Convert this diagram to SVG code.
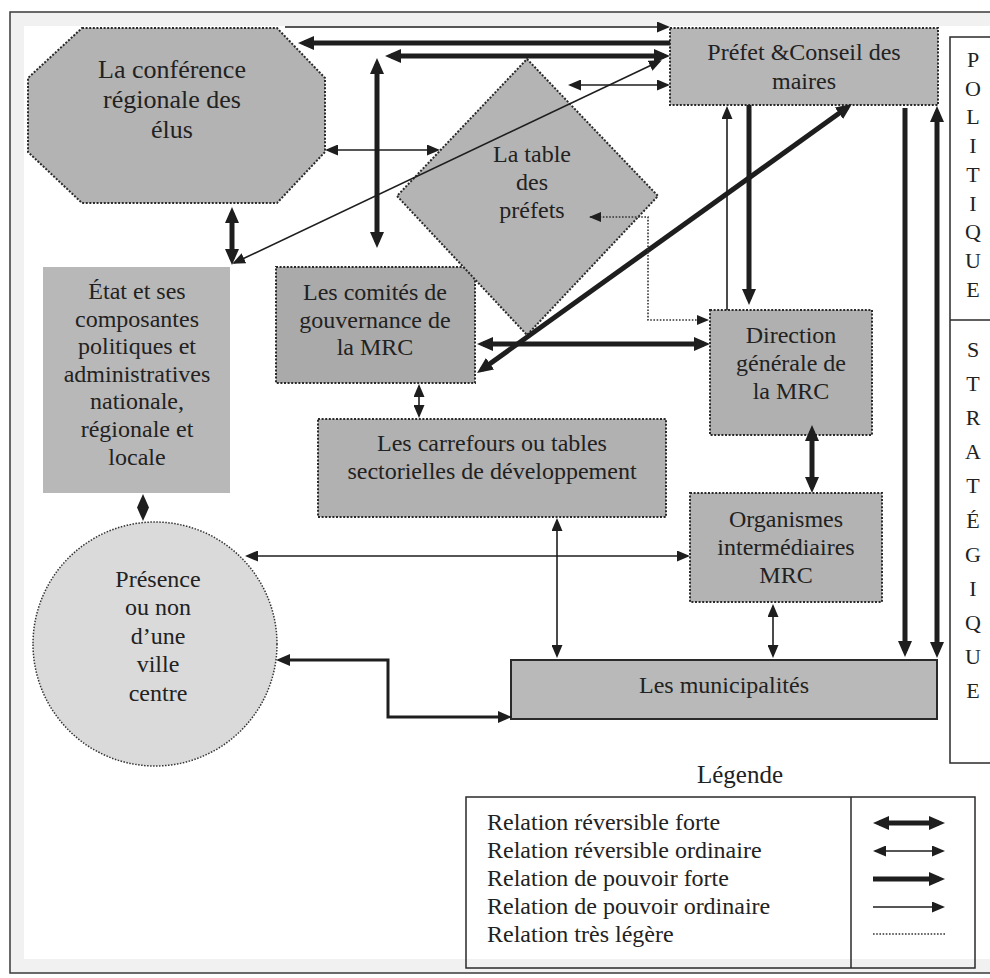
<svg xmlns="http://www.w3.org/2000/svg" width="990" height="978" viewBox="0 0 990 978">
  <defs>
    <style>
      .lbl{font-family:"Liberation Serif","Times New Roman",serif;font-size:24px;fill:#222;text-anchor:middle}
      .col{font-family:"Liberation Serif","Times New Roman",serif;font-size:22px;fill:#222;text-anchor:middle}
      .leg{font-family:"Liberation Serif","Times New Roman",serif;font-size:24px;fill:#222}
      .box{stroke:#2a2a2a;stroke-width:2;stroke-dasharray:2 1.6}
      .thick{fill:none;stroke:#1e1e1e;stroke-width:5}
      .thin{fill:none;stroke:#1e1e1e;stroke-width:1.6}
      .mid{fill:none;stroke:#1e1e1e;stroke-width:3}
      .light{fill:none;stroke:#333;stroke-width:1.6;stroke-dasharray:1.6 1.6}
      .frame{fill:none;stroke:#2a2a2a;stroke-width:1.5}
    </style>
    <marker id="hk" viewBox="0 0 16 14" refX="10" refY="7" markerWidth="16" markerHeight="14" markerUnits="userSpaceOnUse" orient="auto-start-reverse">
      <path d="M0,0 L16,7 L0,14 z" fill="#1e1e1e"/>
    </marker>
    <marker id="hn" viewBox="0 0 13 11" refX="11" refY="5.5" markerWidth="13" markerHeight="11" markerUnits="userSpaceOnUse" orient="auto-start-reverse">
      <path d="M0,0 L13,5.5 L0,11 z" fill="#1e1e1e"/>
    </marker>
    <marker id="hm" viewBox="0 0 14 12" refX="8" refY="6" markerWidth="14" markerHeight="12" markerUnits="userSpaceOnUse" orient="auto-start-reverse">
      <path d="M0,0 L14,6 L0,12 z" fill="#1e1e1e"/>
    </marker>
    <marker id="hd" viewBox="0 0 12 10" refX="11" refY="5" markerWidth="12" markerHeight="10" markerUnits="userSpaceOnUse" orient="auto-start-reverse">
      <path d="M0,0 L12,5 L0,10 z M0,1 h2 v8 h-2 z" fill="#1e1e1e"/>
    </marker>
  </defs>

  <!-- page frame -->
  <rect x="10" y="12" width="985" height="961" fill="#f1f1f1" stroke="#3a3a3a" stroke-width="1.5"/>
  <rect x="24" y="26" width="971" height="933" fill="#ffffff"/>

  <!-- level column -->
  <g id="niveaux">
    <rect x="950" y="37" width="50" height="726" fill="#ffffff" class="frame"/>
    <line x1="950" y1="320" x2="990" y2="320" class="frame"/>
    <text class="col" x="973" y="67">P</text>
    <text class="col" x="973" y="96">O</text>
    <text class="col" x="973" y="124">L</text>
    <text class="col" x="973" y="153">I</text>
    <text class="col" x="973" y="182">T</text>
    <text class="col" x="973" y="211">I</text>
    <text class="col" x="973" y="239">Q</text>
    <text class="col" x="973" y="268">U</text>
    <text class="col" x="973" y="297">E</text>
    <text class="col" x="973" y="357">S</text>
    <text class="col" x="973" y="391">T</text>
    <text class="col" x="973" y="425">R</text>
    <text class="col" x="973" y="459">A</text>
    <text class="col" x="973" y="493">T</text>
    <text class="col" x="973" y="528">É</text>
    <text class="col" x="973" y="562">G</text>
    <text class="col" x="973" y="596">I</text>
    <text class="col" x="973" y="630">Q</text>
    <text class="col" x="973" y="664">U</text>
    <text class="col" x="973" y="698">E</text>
  </g>

  <g id="conference-regionale">
    <polygon points="82,28 277,28 325,78 325,152 277,203 82,203 28,152 28,78" fill="#b3b3b3" class="box"/>
    <text class="lbl" style="font-size:26px" x="172" y="78">La conférence</text>
    <text class="lbl" style="font-size:26px" x="172" y="108">régionale des</text>
    <text class="lbl" style="font-size:26px" x="172" y="138">élus</text>
  </g>

  <g id="prefet-conseil">
    <rect x="670" y="28" width="268" height="77" fill="#b6b6b6" class="box"/>
    <text class="lbl" x="804" y="60">Préfet &amp;Conseil des</text>
    <text class="lbl" x="804" y="89">maires</text>
  </g>

  <g id="etat">
    <rect x="43" y="267" width="187" height="226" fill="#b8b8b8"/>
    <text class="lbl" x="137" y="299">État et ses</text>
    <text class="lbl" x="137" y="327">composantes</text>
    <text class="lbl" x="137" y="354">politiques et</text>
    <text class="lbl" x="137" y="382">administratives</text>
    <text class="lbl" x="137" y="409">nationale,</text>
    <text class="lbl" x="137" y="437">régionale et</text>
    <text class="lbl" x="137" y="465">locale</text>
  </g>

  <g id="comites">
    <rect x="276" y="267" width="199" height="116" fill="#aaaaaa" class="box"/>
    <text class="lbl" x="375" y="300">Les comités de</text>
    <text class="lbl" x="375" y="328">gouvernance de</text>
    <text class="lbl" x="375" y="355">la MRC</text>
  </g>

  <g id="table-prefets">
    <polygon points="527,59 658,196 527,335 397,196" fill="#b4b4b4" class="box"/>
    <text class="lbl" x="532" y="162">La table</text>
    <text class="lbl" x="532" y="190">des</text>
    <text class="lbl" x="532" y="218">préfets</text>
  </g>

  <g id="carrefours">
    <rect x="318" y="419" width="348" height="98" fill="#b1b1b1" class="box"/>
    <text class="lbl" x="492" y="451">Les carrefours ou tables</text>
    <text class="lbl" x="492" y="479">sectorielles de développement</text>
  </g>

  <g id="direction">
    <rect x="710" y="310" width="162" height="125" fill="#b0b0b0" class="box"/>
    <text class="lbl" x="791" y="343">Direction</text>
    <text class="lbl" x="791" y="371">générale de</text>
    <text class="lbl" x="791" y="399">la MRC</text>
  </g>

  <g id="organismes">
    <rect x="690" y="493" width="192" height="109" fill="#b3b3b3" class="box"/>
    <text class="lbl" x="786" y="527">Organismes</text>
    <text class="lbl" x="786" y="555">intermédiaires</text>
    <text class="lbl" x="786" y="583">MRC</text>
  </g>

  <g id="municipalites">
    <rect x="511" y="660" width="426" height="59" fill="#b9b9b9" stroke="#2a2a2a" stroke-width="2"/>
    <text class="lbl" x="724" y="693">Les municipalités</text>
  </g>

  <g id="ville-centre">
    <circle cx="155" cy="644" r="122" fill="#dadada" stroke="#333" stroke-width="1.5" stroke-dasharray="1.5 1.5"/>
    <text class="lbl" x="158" y="587">Présence</text>
    <text class="lbl" x="158" y="615">ou non</text>
    <text class="lbl" x="158" y="644">d’une</text>
    <text class="lbl" x="158" y="672">ville</text>
    <text class="lbl" x="158" y="701">centre</text>
  </g>

  <!-- relations -->
  <g id="connecteurs">
    <path class="thin" d="M285,27 H668" marker-end="url(#hn)"/>
    <path class="thick" d="M670,43 H304" marker-end="url(#hk)"/>
    <path class="thick" d="M391,56 H664" marker-start="url(#hk)" marker-end="url(#hk)"/>
    <path class="thick" d="M377,64 V242" marker-start="url(#hk)" marker-end="url(#hk)"/>
    <path class="thin" d="M570,85 H668" marker-start="url(#hn)" marker-end="url(#hn)"/>
    <path class="thin" d="M234,263 L660,61" marker-start="url(#hn)" marker-end="url(#hn)"/>
    <path class="thin" d="M327,150 H438" marker-start="url(#hn)" marker-end="url(#hn)"/>
    <path class="thick" d="M232,213 V259" marker-start="url(#hk)" marker-end="url(#hk)"/>
    <path class="thick" d="M483,344 H704" marker-start="url(#hk)" marker-end="url(#hk)"/>
    <path class="thick" d="M481.9,369.5 L847.1,107.5" marker-start="url(#hk)" marker-end="url(#hk)"/>
    <path class="light" d="M590,217 H648 V320 H708" marker-start="url(#hd)" marker-end="url(#hd)"/>
    <path class="thin" d="M727,310 V108" marker-end="url(#hn)"/>
    <path class="thick" d="M749,105 V299" marker-end="url(#hk)"/>
    <path class="thick" d="M905,108 V651" marker-end="url(#hk)"/>
    <path class="thick" d="M937,112 V652" marker-start="url(#hk)" marker-end="url(#hk)"/>
    <path class="thick" d="M812,431 V487" marker-start="url(#hk)" marker-end="url(#hk)"/>
    <path class="thin" d="M419,386 V416" marker-start="url(#hn)" marker-end="url(#hn)"/>
    <path class="thin" d="M557,520 V656" marker-start="url(#hn)" marker-end="url(#hn)"/>
    <path class="thin" d="M247,556 H688" marker-start="url(#hn)" marker-end="url(#hn)"/>
    <path class="thin" d="M773,606 V656" marker-start="url(#hn)" marker-end="url(#hn)"/>
    <path class="mid" d="M282,660 H388 V717 H506" marker-start="url(#hm)" marker-end="url(#hm)"/>
    <polygon points="143,494 149,507.5 143,521 137,507.5" fill="#1e1e1e"/>
  </g>

  <g id="legende">
    <text class="lbl" style="font-size:25px" x="740" y="783">Légende</text>
    <rect x="466" y="797" width="509" height="171" fill="#ffffff" class="frame"/>
    <line x1="851" y1="797" x2="851" y2="968" class="frame"/>
    <text class="leg" x="487" y="830">Relation réversible forte</text>
    <text class="leg" x="487" y="858">Relation réversible ordinaire</text>
    <text class="leg" x="487" y="886">Relation de pouvoir forte</text>
    <text class="leg" x="487" y="914">Relation de pouvoir ordinaire</text>
    <text class="leg" x="487" y="942">Relation très légère</text>
    <path class="thick" d="M879,823 H939" marker-start="url(#hk)" marker-end="url(#hk)"/>
    <path class="thin" d="M875,851 H943" marker-start="url(#hn)" marker-end="url(#hn)"/>
    <path class="thick" d="M873,879 H939" marker-end="url(#hk)"/>
    <path class="thin" d="M873,907 H943" marker-end="url(#hn)"/>
    <path class="light" d="M873,934 H945"/>
  </g>
</svg>
